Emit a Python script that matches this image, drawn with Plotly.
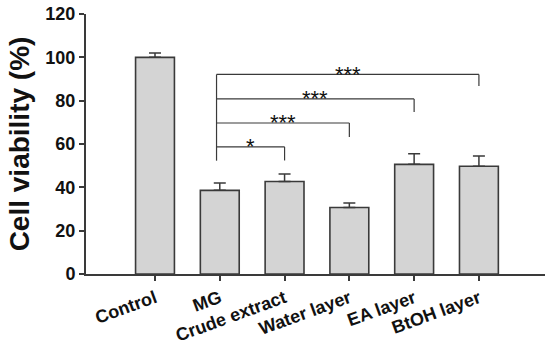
import plotly.graph_objects as go

categories = ["Control", "MG", "Crude extract", "Water layer", "EA layer", "BtOH layer"]
viability = [100, 38.6, 42.7, 30.7, 50.6, 49.7]
errors = [2.0, 3.4, 3.4, 2.1, 4.9, 4.8]

# significance brackets
brk_from = [1, 1, 1, 1]
brk_to = [2, 3, 4, 5]
brk_level = [58.7, 69.7, 80.8, 92.1]
brk_end = [52.4, 63.2, 74.8, 86.8]
brk_label = ["*", "***", "***", "***"]
brk_start_bottom = 52.3

yticks = [0, 20, 40, 60, 80, 100, 120]

FONT = "Liberation Sans, Arial, sans-serif"
AX = "#3a3a3a"

x_idx = list(range(len(categories)))

fig = go.Figure()
fig.add_trace(go.Bar(
    x=x_idx, y=viability, width=0.6,
    marker=dict(color="#d4d4d4", line=dict(color=AX, width=1.6)),
    error_y=dict(type="data", symmetric=False, array=errors,
                 arrayminus=[0] * len(errors), color=AX, thickness=1.5, width=6),
))

shapes = []
annotations = []
for f, t, lv, e, lab in zip(brk_from, brk_to, brk_level, brk_end, brk_label):
    x0 = f - 0.05
    shapes.append(dict(type="line", xref="x", yref="y", x0=x0, x1=t, y0=lv, y1=lv,
                       line=dict(color=AX, width=1.2)))
    shapes.append(dict(type="line", xref="x", yref="y", x0=t, x1=t, y0=lv, y1=e,
                       line=dict(color=AX, width=1.2)))
    annotations.append(dict(x=(x0 + t) / 2, y=lv, xref="x", yref="y", text=lab,
                            showarrow=False, yanchor="middle", yshift=0,
                            font=dict(family=FONT, size=22, color="#111")))
shapes.append(dict(type="line", xref="x", yref="y", x0=0.95, x1=0.95,
                   y0=brk_start_bottom, y1=max(brk_level),
                   line=dict(color=AX, width=1.2)))

fig.update_layout(
    width=550, height=344,
    margin=dict(l=86, r=5, t=14, b=70),
    plot_bgcolor="white", paper_bgcolor="white",
    showlegend=False,
    shapes=shapes, annotations=annotations,
    font=dict(family=FONT, color="#111"),
    xaxis=dict(range=[-1.065, 6.02], tickvals=x_idx, ticktext=categories,
               tickangle=-20, ticks="outside", ticklen=5, tickwidth=1.5, tickcolor=AX,
               showline=True, linecolor=AX, linewidth=2, showgrid=False, zeroline=False,
               automargin=False, ticklabeloverflow="allow",
               tickfont=dict(family=FONT, size=18, color="#111", weight="bold")),
    yaxis=dict(range=[0, 120], tickvals=yticks, ticks="outside", ticklen=5,
               tickwidth=1.5, tickcolor=AX,
               showline=True, linecolor=AX, linewidth=2, showgrid=False, zeroline=False,
               automargin=False, ticklabeloverflow="allow",
               tickfont=dict(family=FONT, size=18, color="#111", weight="bold"),
               title=dict(text="Cell viability (%)", standoff=8,
                          font=dict(family=FONT, size=28, color="#111", weight="bold"))),
)

fig.write_html("out.html", config={"displayModeBar": False},
               post_script="document.body.style.margin='0';document.body.style.overflow='hidden';")
